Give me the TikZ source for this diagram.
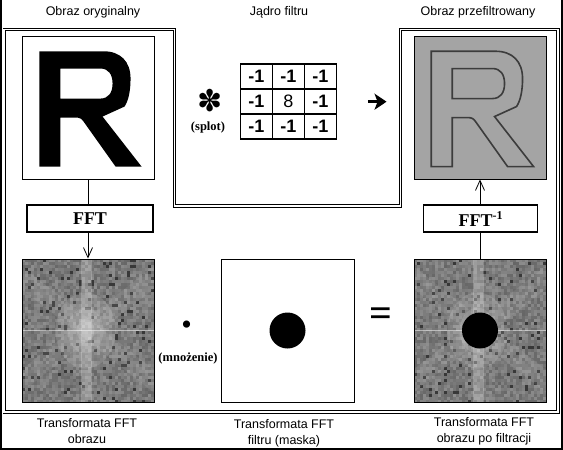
\documentclass[tikz,border=0pt]{standalone}
\usepackage{fontspec}
\setmainfont{Liberation Serif}
\setsansfont{Liberation Sans}
\newfontfamily\symfont{DejaVu Sans}
\usetikzlibrary{arrows.meta,positioning,matrix,backgrounds}

\definecolor{filtgray}{HTML}{A4A4A4}
\definecolor{edgegray}{HTML}{3C3C3C}

% letter R of the test image, in pixels from the upper left corner of its box
\tikzset{pics/letterR/.style={code={
  \path[pic actions, even odd rule]
    (17.7,15.7) -- (82,15.7) .. controls (99,15.7) and (109,26) .. (109,43)
    .. controls (109,55) and (107,65) .. (103,71) -- (81,81) -- (120,131) -- (94,131)
    -- (62,86) .. controls (60,83) and (58,82) .. (54,82) -- (38.7,82) -- (38.7,131)
    -- (17.7,131) -- cycle
    (38.7,33) -- (79,33) .. controls (87,33) and (91,39) .. (91,48)
    .. controls (91,57) and (87,63) .. (79,63) -- (38.7,63) -- cycle;
}}}

% noisy spectrum inside an image box
\newcommand\specnoise[1]{%
  \begin{scope}
    \clip (#1.north west) rectangle (#1.south east);
    \begin{scope}[shift={(#1.north west)}]
      \foreach \i in {0,...,44}{
        \foreach \j in {0,...,47}{
          \pgfmathsetmacro\g{rnd<0.06 ? 78 : 44+16*rnd}
          \fill[black!\g] (3*\i,3*\j) rectangle ++(3,3);
        }
      }
      \fill[white, opacity=0.22] (59,0) rectangle (70,144);
      \fill[white, opacity=0.08, rotate around={38:(66,72)}] (-40,62) rectangle (180,80);
      \fill[white, opacity=0.08, rotate around={-38:(66,72)}] (-40,62) rectangle (180,80);
      \foreach \r in {1,0.6,0.3}
        \fill[white, opacity=0.12] (64,72) ellipse ({30*\r} and {38*\r});
      \draw[white, opacity=0.5, line width=0.8pt] (0,72) -- (133,72);
    \end{scope}
  \end{scope}}

\begin{document}
\pgfmathsetseed{7}
\begin{tikzpicture}[
	x=1pt, y=-1pt,
	font=\sffamily,
	picbox/.style={rectangle, draw, line width=0.9pt, minimum width=132pt, minimum height=143pt, inner sep=0pt},
	opbox/.style={rectangle, draw, line width=1.6pt, minimum height=27pt, inner sep=0pt, font=\fontsize{18}{18}\selectfont\rmfamily\bfseries},
	cell/.style={rectangle, draw, line width=1.6pt, minimum width=32pt, minimum height=25pt, inner sep=0pt, font=\fontsize{18}{18}\selectfont\sffamily\bfseries},
	caption/.style={font=\fontsize{12.5}{16}\selectfont\sffamily, align=center},
	oplabel/.style={font=\fontsize{12.5}{14}\selectfont\rmfamily\bfseries},
	link/.style={line width=0.8pt},
	flow/.style={link, -{Straight Barb[length=10pt,width=9pt]}},
	dblframe/.style={double, line width=0.9pt, double distance=1.6pt}
]
\useasboundingbox (0,0) rectangle (563,450);

% --- outer frames ---
\draw[line width=2pt] (1,0) -- (1,449) -- (562,449) -- (562,0);
\draw[dblframe] (4.2,29.3) -- (174.5,29.3) -- (174.5,206) -- (400.3,206) -- (400.3,29.3)
  -- (557.8,29.3) -- (557.8,412) -- (4.2,412) -- cycle;

% --- titles ---
\node[caption] (ttlorig) at (93,12.5) {Obraz oryginalny};
\node[caption] (ttlkern) at (279,12.5) {Jądro filtru};
\node[caption] (ttlfilt) at (478,12.5) {Obraz przefiltrowany};

% --- spatial domain ---
\node[picbox, fill=white] (orig) at (88,107.5) {};
\pic[fill=black] at (orig.north west) {letterR};

\matrix (kern) at (288.5,101.7) [matrix of nodes, nodes={cell}, column sep=-1.6pt, row sep=-1.6pt] {
  -1 & -1 & -1 \\
  -1 & |[font=\fontsize{18}{18}\selectfont\sffamily]| 8 & -1 \\
  -1 & -1 & -1 \\
};
\node[font=\symfont\fontsize{30}{30}\selectfont] (conv) at (210,101) {✽};
\node[oplabel] (splot) at (208,127) {(splot)};

\node[picbox, fill=filtgray] (filt) at (480,107.5) {};
\pic[draw=edgegray, line width=1.6pt] at (filt.north west) {letterR};

\draw[line width=3.5pt, -{Stealth[length=12pt,width=16pt,inset=3pt]}, shorten <=27pt, shorten >=27pt]
  (kern.east) -- (kern.east -| filt.west);

% --- transforms ---
\node[opbox, minimum width=126pt] (fft) at (90,218.6) {FFT};
\node[opbox, minimum width=114pt] (ifft) at (480.6,218.6) {FFT\raisebox{7pt}{\fontsize{12}{12}\selectfont -1}};

% --- frequency domain ---
\node[picbox] (fftl) at (88,330.5) {};
\node[picbox, fill=white, minimum width=133pt] (mask) at (287.5,330.5) {};
\node[picbox] (fftr) at (480,330.5) {};
\begin{scope}[on background layer]
  \specnoise{fftl}
  \specnoise{fftr}
\end{scope}
\fill (mask.center) circle (18);
\fill (fftr.center) circle (18);

\node[font=\fontsize{30}{30}\selectfont] (dot) at (186.7,327.3) {•};
\node[oplabel] (mnoz) at (188,358.3) {(mnożenie)};
\node[font=\fontsize{40}{40}\selectfont\bfseries] (eq) at (381,317.5) {=};

\draw[link] (orig.south) -- (orig.south |- fft.north);
\draw[flow] (fftl.north |- fft.south) -- (fftl.north);
\draw[link] (fftr.north) -- (fftr.north |- ifft.south);
\draw[flow] (filt.south |- ifft.north) -- (filt.south);

% --- captions ---
\node[caption] (capl) at (87,431) {Transformata FFT\\obrazu};
\node[caption] (capm) at (284,433) {Transformata FFT\\filtru (maska)};
\node[caption] (capr) at (484,431) {Transformata FFT\\obrazu po filtracji};

\end{tikzpicture}
\end{document}
